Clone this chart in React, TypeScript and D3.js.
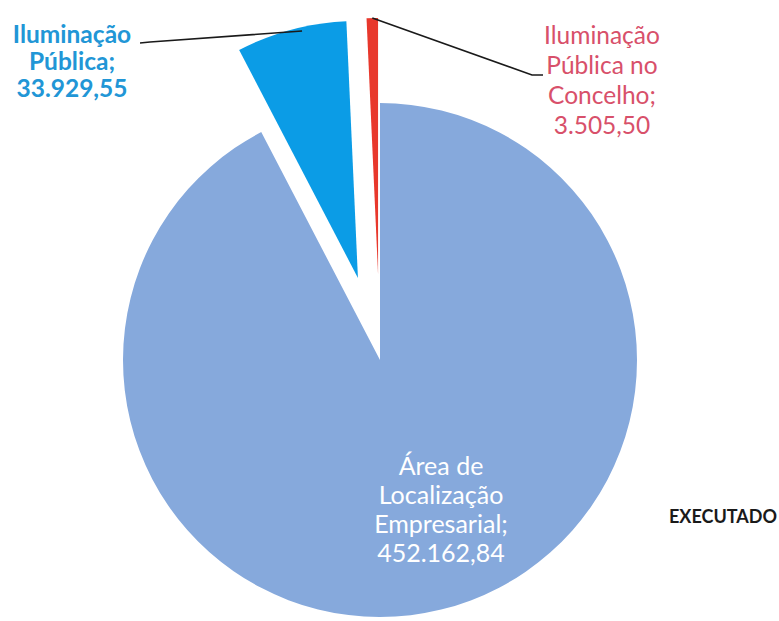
import React from "react";
import * as d3 from "d3";

const categories = [
  "Área de Localização Empresarial",
  "Iluminação Pública",
  "Iluminação Pública no Concelho",
];
const values = [452162.84, 33929.55, 3505.5];
const valueLabels = ["452.162,84", "33.929,55", "3.505,50"];
const labelLines = [
  ["Área de", "Localização", "Empresarial;", "452.162,84"],
  ["Iluminação", "Pública;", "33.929,55"],
  ["Iluminação", "Pública no", "Concelho;", "3.505,50"],
];
const sliceColors = ["#86A9DC", "#0B9CE6", "#E8382C"];
const labelColors = ["#FFFFFF", "#2196D6", "#D8506A"];
const explode = [0, 85, 85];
const seriesTitle = "EXECUTADO";

const W = 779;
const H = 621;
const cx = 380;
const cy = 360;
const R = 257;

// label layout
const labelPos = [
  { x: 441, y: 475, dy: 29, weight: 400, size: 25 },
  { x: 72, y: 43, dy: 27, weight: 700, size: 24.5 },
  { x: 602, y: 44, dy: 30, weight: 400, size: 24.5 },
];

export default function App() {
  const pie = d3
    .pie<number>()
    .sort(null)
    .startAngle(0)
    .endAngle(2 * Math.PI)
    .value((d) => d);
  const arcs = pie(values);
  const arc = d3.arc<d3.PieArcDatum<number>>().innerRadius(0).outerRadius(R);

  const offsets = arcs.map((a, i) => {
    const mid = (a.startAngle + a.endAngle) / 2;
    return [Math.sin(mid) * explode[i], -Math.cos(mid) * explode[i]];
  });

  const anchor = (i: number, frac: number) => {
    const a = arcs[i];
    const ang = a.startAngle + (a.endAngle - a.startAngle) * frac;
    return [cx + offsets[i][0] + Math.sin(ang) * R, cy + offsets[i][1] - Math.cos(ang) * R];
  };
  const blueA = anchor(1, 0.6);
  const redA = anchor(2, 0.5);
  const line = d3.line();

  return (
    <svg
      width={W}
      height={H}
      style={{ position: "absolute", left: 0, top: 0, background: "#fff" }}
      fontFamily="Lato, 'Open Sans', sans-serif"
    >
      <g transform={`translate(${cx},${cy})`}>
        {arcs.map((a, i) => (
          <path
            key={categories[i]}
            d={arc(a) || ""}
            transform={`translate(${offsets[i][0]},${offsets[i][1]})`}
            fill={sliceColors[i]}
          />
        ))}
      </g>
      <path
        d={line([[140, 43], [150, 42], [blueA[0], blueA[1] + 4]]) || ""}
        fill="none"
        stroke="#1a1a1a"
        strokeWidth={1.6}
      />
      <path
        d={line([[redA[0], redA[1]], [532, 75], [543, 75]]) || ""}
        fill="none"
        stroke="#1a1a1a"
        strokeWidth={1.6}
      />
      {labelLines.map((lines, i) => (
        <text
          key={i}
          textAnchor="middle"
          fill={labelColors[i]}
          fontWeight={labelPos[i].weight}
          fontSize={labelPos[i].size}
        >
          {lines.map((t, j) => (
            <tspan key={j} x={labelPos[i].x} y={labelPos[i].y + j * labelPos[i].dy}>
              {t}
            </tspan>
          ))}
        </text>
      ))}
      <text x={723} y={523} textAnchor="middle" fontWeight={700} fontSize={18} fill="#1a1a1a">
        {seriesTitle}
      </text>
    </svg>
  );
}
